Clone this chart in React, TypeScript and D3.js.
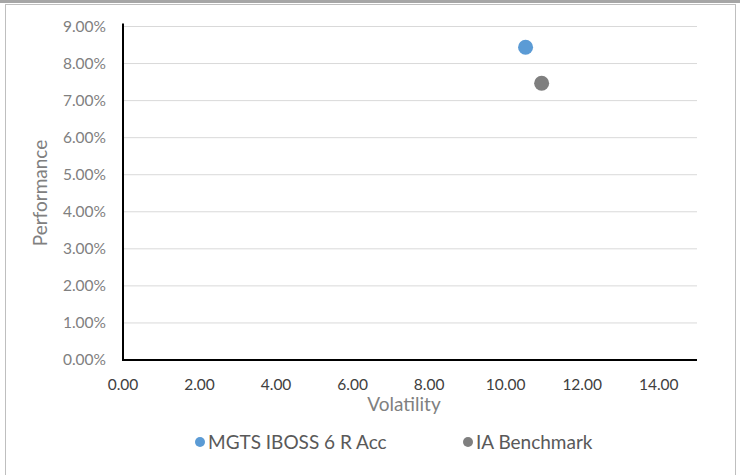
import React from 'react';
import * as d3 from 'd3';

const seriesNames = ['MGTS IBOSS 6 R Acc', 'IA Benchmark'];
const seriesColors = ['#5b9bd5', '#7f7f7f'];
const volatility = [10.52, 10.94];
const performance = [8.44, 7.47];
const yTicks = [0, 1, 2, 3, 4, 5, 6, 7, 8, 9];
const xTicks = [0, 2, 4, 6, 8, 10, 12, 14];

const W = 740;
const H = 475;
const font = 'Lato, "Open Sans", sans-serif';

export default function App() {
  const x = d3.scaleLinear().domain([0, 15]).range([123, 697]);
  const y = d3.scaleLinear().domain([0, 9]).range([360, 26.5]);

  return (
    <svg width={W} height={H} style={{ position: 'absolute', left: 0, top: 0 }} fontFamily={font}>
      <rect x={0} y={0} width={W} height={H} fill="#fff" />
      {/* outer frame */}
      <rect x={0} y={0} width={W} height={3} fill="#a6a6a6" />
      <rect x={5.5} y={4.5} width={730} height={476} fill="none" stroke="#bfbfbf" strokeWidth={1} />

      {/* gridlines */}
      {yTicks.filter(t => t > 0).map(t => (
        <line key={t} x1={x(0)} x2={x(15)} y1={y(t)} y2={y(t)} stroke="#d9d9d9" strokeWidth={1} />
      ))}

      {/* axes */}
      <line x1={x(0)} x2={x(0)} y1={y(9) - 3} y2={y(0) + 1} stroke="#000" strokeWidth={2} />
      <line x1={x(0) - 1} x2={x(15)} y1={y(0)} y2={y(0)} stroke="#000" strokeWidth={2} />

      {/* y tick labels */}
      {yTicks.map(t => (
        <text key={t} x={106} y={y(t)} dy="0.35em" textAnchor="end" fontSize={15.5} fill="#808080">
          {d3.format('.2f')(t) + '%'}
        </text>
      ))}

      {/* x tick labels */}
      {xTicks.map(t => (
        <text key={t} x={x(t)} y={385} dy="0.35em" textAnchor="middle" fontSize={15.5} fill="#404040">
          {d3.format('.2f')(t)}
        </text>
      ))}

      {/* axis titles */}
      <text x={404} y={404} dy="0.35em" textAnchor="middle" fontSize={19} fill="#808080">Volatility</text>
      <text transform={`translate(40,193) rotate(-90)`} dy="0.35em" textAnchor="middle" fontSize={19} fill="#808080">
        Performance
      </text>

      {/* points */}
      {volatility.map((v, i) => (
        <circle key={i} cx={x(v)} cy={y(performance[i])} r={7.5} fill={seriesColors[i]} />
      ))}

      {/* legend */}
      {seriesNames.map((name, i) => {
        const lx = [200, 468][i];
        return (
          <g key={name}>
            <circle cx={lx} cy={442} r={5} fill={seriesColors[i]} />
            <text x={lx + 8} y={442} dy="0.35em" fontSize={19} fill="#595959">{name}</text>
          </g>
        );
      })}
    </svg>
  );
}
